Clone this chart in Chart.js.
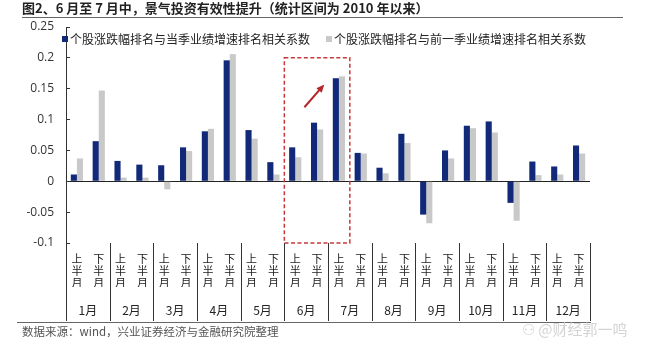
<!DOCTYPE html>
<html>
<head>
<meta charset="utf-8">
<script src="https://cdn.jsdelivr.net/npm/chart.js@4.4.1/dist/chart.umd.min.js"></script>
<style>
  body { margin: 0; width: 650px; height: 351px; background: #fff; position: relative; overflow: hidden;
         font-family: "Noto Sans CJK SC", "Noto Sans", sans-serif; color: #222; }
  #chart-wrap { position: absolute; left: 0; top: 0; width: 650px; height: 351px; }
  .abs { position: absolute; white-space: nowrap; }
  #title { left: 22px; top: 0; font-size: 13px; font-weight: bold; line-height: 16px; color: #222; }
  .rule { position: absolute; height: 1px; background: #666; }
  .legend-item { position: absolute; top: 31px; font-size: 12px; line-height: 16px; color: #222; }
  .legend-item i { position: absolute; top: 5px; width: 6px; height: 6px; }
  #source { left: 22px; top: 323px; font-size: 11.5px; line-height: 16px; color: #555; }
  #mark { left: 522px; top: 320px; font-size: 15px; line-height: 18px; color: #d4d4d4; }
</style>
</head>
<body>
<div id="chart-wrap"><canvas id="chart" width="650" height="351"></canvas></div>
<div id="title" class="abs">图2、6 月至 7 月中，景气投资有效性提升（统计区间为 2010 年以来）</div>
<div class="rule" style="left:22px; top:17px; width:601px;"></div>
<div class="legend-item" style="left:70px;"><i style="left:-8px; background:#12297a;"></i>个股涨跌幅排名与当季业绩增速排名相关系数</div>
<div class="legend-item" style="left:334px;"><i style="left:-8px; background:#c9c9c9;"></i>个股涨跌幅排名与前一季业绩增速排名相关系数</div>
<div class="rule" style="left:17px; top:322px; width:574px;"></div>
<div id="source" class="abs">数据来源：wind，兴业证券经济与金融研究院整理</div>
<div id="mark" class="abs">⚇ @财经郭一鸣</div>

<script>
// half-month categories (vertical text) and month groups
const halfLabels = [];
const months = ["1月", "2月", "3月", "4月", "5月", "6月", "7月", "8月", "9月", "10月", "11月", "12月"];
months.forEach(() => {
  halfLabels.push(["上", "半", "月"]);
  halfLabels.push(["下", "半", "月"]);
});

// correlation with current-quarter earnings growth rank
const currentQuarter = [0.011, 0.065, 0.033, 0.027, 0.026, 0.055, 0.081, 0.196, 0.083, 0.031, 0.055, 0.095,
                        0.167, 0.046, 0.022, 0.077, -0.054, 0.050, 0.090, 0.097, -0.035, 0.032, 0.024, 0.058];
// correlation with previous-quarter earnings growth rank
const prevQuarter = [0.037, 0.147, 0.006, 0.006, -0.013, 0.049, 0.085, 0.206, 0.069, 0.011, 0.039, 0.084,
                     0.170, 0.045, 0.013, 0.062, -0.068, 0.037, 0.086, 0.079, -0.064, 0.010, 0.011, 0.045];

const yTickValues = [-0.1, -0.05, 0, 0.05, 0.1, 0.15, 0.2, 0.25];

// highlighted window (Jun upper .. Jul upper) and the arrow, in data units
const highlightFrom = 10;
const highlightTo = 12;
const highlightTop = 0.2;
const arrowFrom = [10.42, 0.12];
const arrowTo = [11.33, 0.157];

const NAVY = "#12297a";
const GRAY = "#c9c9c9";

// month separators through both label rows
const separatorPlugin = {
  id: "separators",
  afterDraw(chart) {
    const { ctx, chartArea, scales: { x, months: m } } = chart;
    ctx.save();
    ctx.strokeStyle = "#333";
    ctx.lineWidth = 1;
    for (let i = 0; i <= halfLabels.length; i += 2) {
      const px = Math.round(x.getPixelForValue(i - 0.5)) + 0.5;
      ctx.beginPath();
      ctx.moveTo(px, chartArea.bottom);
      ctx.lineTo(px, m.bottom);
      ctx.stroke();
    }
    ctx.restore();
  }
};

// Draw the red dashed box and arrow on top of the bars
const highlightPlugin = {
  id: "highlight",
  afterDatasetsDraw(chart) {
    const { ctx, scales: { x, y } } = chart;
    const left = x.getPixelForValue(highlightFrom - 0.5);
    const right = x.getPixelForValue(highlightTo + 0.5);
    const top = y.getPixelForValue(highlightTop);
    const bottom = y.getPixelForValue(yTickValues[0]);

    ctx.save();
    ctx.strokeStyle = "#c8383a";
    ctx.lineWidth = 1.5;
    ctx.setLineDash([4, 2.5]);
    ctx.strokeRect(left, top, right - left, bottom - top);

    // arrow
    const x1 = x.getPixelForValue(arrowFrom[0]), y1 = y.getPixelForValue(arrowFrom[1]);
    const x2 = x.getPixelForValue(arrowTo[0]), y2 = y.getPixelForValue(arrowTo[1]);
    const ang = Math.atan2(y2 - y1, x2 - x1);
    ctx.setLineDash([]);
    ctx.strokeStyle = "#b3282b";
    ctx.fillStyle = "#b3282b";
    ctx.lineWidth = 2;
    ctx.beginPath();
    ctx.moveTo(x1, y1);
    ctx.lineTo(x2 - 5 * Math.cos(ang), y2 - 5 * Math.sin(ang));
    ctx.stroke();
    ctx.beginPath();
    ctx.moveTo(x2, y2);
    ctx.lineTo(x2 - 8 * Math.cos(ang) + 3.5 * Math.sin(ang), y2 - 8 * Math.sin(ang) - 3.5 * Math.cos(ang));
    ctx.lineTo(x2 - 8 * Math.cos(ang) - 3.5 * Math.sin(ang), y2 - 8 * Math.sin(ang) + 3.5 * Math.cos(ang));
    ctx.closePath();
    ctx.fill();
    ctx.restore();
  }
};

const ctx = document.getElementById("chart").getContext("2d");
new Chart(ctx, {
  type: "bar",
  data: {
    labels: halfLabels,
    datasets: [
      {
        label: "个股涨跌幅排名与当季业绩增速排名相关系数",
        data: currentQuarter,
        backgroundColor: NAVY,
        categoryPercentage: 0.56,
        barPercentage: 1.0,
        xAxisID: "x",
      },
      {
        label: "个股涨跌幅排名与前一季业绩增速排名相关系数",
        data: prevQuarter,
        backgroundColor: GRAY,
        categoryPercentage: 0.56,
        barPercentage: 1.0,
        xAxisID: "x",
      },
    ],
  },
  options: {
    responsive: false,
    animation: false,
    layout: { padding: { top: 27, left: 10, right: 60, bottom: 30 } },
    plugins: {
      legend: { display: false },
      tooltip: { enabled: false },
    },
    scales: {
      x: {
        position: "bottom",
        offset: true,
        border: { display: false },
        grid: { display: false, drawTicks: false },
        ticks: {
          padding: 10,
          maxRotation: 0,
          autoSkip: false,
          color: "#222",
          font: { family: "'Noto Sans CJK SC'", size: 11, lineHeight: 1.1 },
        },
        afterFit: (s) => { s.height = 44; },
      },
      months: {
        type: "category",
        labels: months,
        position: "bottom",
        offset: true,
        grid: { display: false, drawTicks: false },
        border: { display: false },
        ticks: {
          padding: 16,
          maxRotation: 0,
          autoSkip: false,
          color: "#222",
          font: { family: "'Noto Sans CJK SC'", size: 12, lineHeight: 1.2 },
        },
        afterFit: (s) => { s.height = 34; },
      },
      y: {
        min: yTickValues[0],
        max: yTickValues[yTickValues.length - 1],
        afterBuildTicks: (s) => { s.ticks = yTickValues.map((v) => ({ value: v })); },
        border: { display: true, color: "#333", width: 1 },
        grid: {
          tickLength: -4,
          color: (c) => (c.tick && c.tick.value === 0 ? "#222" : "rgba(0,0,0,0)"),
          tickColor: "#333",
          lineWidth: 1,
        },
        ticks: {
          padding: 16,
          color: "#333",
          font: { family: "'Open Sans'", size: 12 },
          callback: (v) => String(Number(v.toFixed(2))),
        },
        afterFit: (s) => { s.width = 56; },
      },
    },
  },
  plugins: [highlightPlugin, separatorPlugin],
});
</script>
</body>
</html>
